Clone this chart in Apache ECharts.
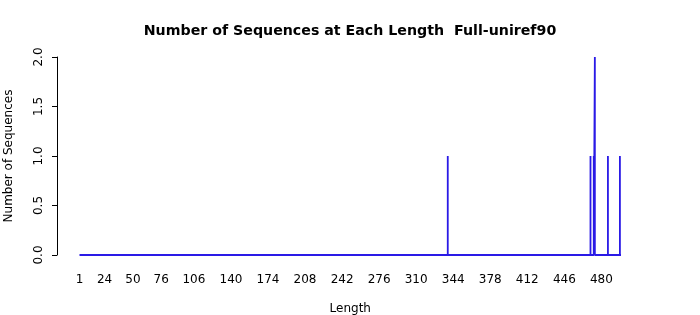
<!DOCTYPE html>
<html><head><meta charset="utf-8">
<script src="https://cdn.jsdelivr.net/npm/echarts@6/dist/echarts.min.js"></script>
<style>html,body{margin:0;padding:0;background:#fff}#c{width:700px;height:315px}</style>
</head><body><div id="c"></div>
<script>
var lengths = [339, 470, 473, 474, 486, 497];
var counts = [1, 1, 1, 2, 1, 1];
var minLength = 1;
var maxLength = 498;
var xTickLabels = [1, 24, 50, 76, 106, 140, 174, 208, 242, 276, 310, 344, 378, 412, 446, 480];
var yTicks = [0, 0.5, 1, 1.5, 2];

var pts = [[minLength, 0]];
for (var i = 0; i < lengths.length; i++) {
  pts.push([lengths[i], 0], [lengths[i], counts[i]], [lengths[i], 0]);
}
pts.push([maxLength, 0]);

var font = 'DejaVu Sans';
var chart = echarts.init(document.getElementById('c'), null, {renderer: 'canvas'});
chart.setOption({
  animation: false,
  title: {
    text: 'Number of Sequences at Each Length  Full-uniref90',
    left: 'center', top: 19,
    textStyle: {fontFamily: font, fontWeight: 'bold', fontSize: 14.2, color: '#000'}
  },
  grid: {left: 79.5, right: 79, top: 57, bottom: 60, containLabel: false, outerBoundsMode: 'none'},
  xAxis: {
    type: 'value', min: minLength, max: maxLength,
    name: 'Length', nameLocation: 'middle', nameGap: 48,
    nameTextStyle: {fontFamily: font, fontSize: 12, color: '#000'},
    axisLine: {show: false}, axisTick: {show: false}, splitLine: {show: false},
    axisLabel: {customValues: xTickLabels, fontFamily: font, fontSize: 12, color: '#000', margin: 19}
  },
  yAxis: {
    type: 'value', min: 0, max: 2, interval: 0.5, offset: 22.5,
    name: 'Number of Sequences', nameLocation: 'middle', nameGap: 42,
    nameTextStyle: {fontFamily: font, fontSize: 12, color: '#000'},
    axisLine: {show: true, lineStyle: {color: '#000', width: 1}},
    axisTick: {show: true, length: 5, lineStyle: {color: '#000'}},
    splitLine: {show: false},
    axisLabel: {rotate: 90, fontFamily: font, fontSize: 12, color: '#000', margin: 12,
      formatter: function (v) { return v.toFixed(1); }}
  },
  series: [{
    type: 'line', data: pts, symbol: 'none',
    lineStyle: {color: '#2a1ae6', width: 1.8}
  }]
});
</script></body></html>
